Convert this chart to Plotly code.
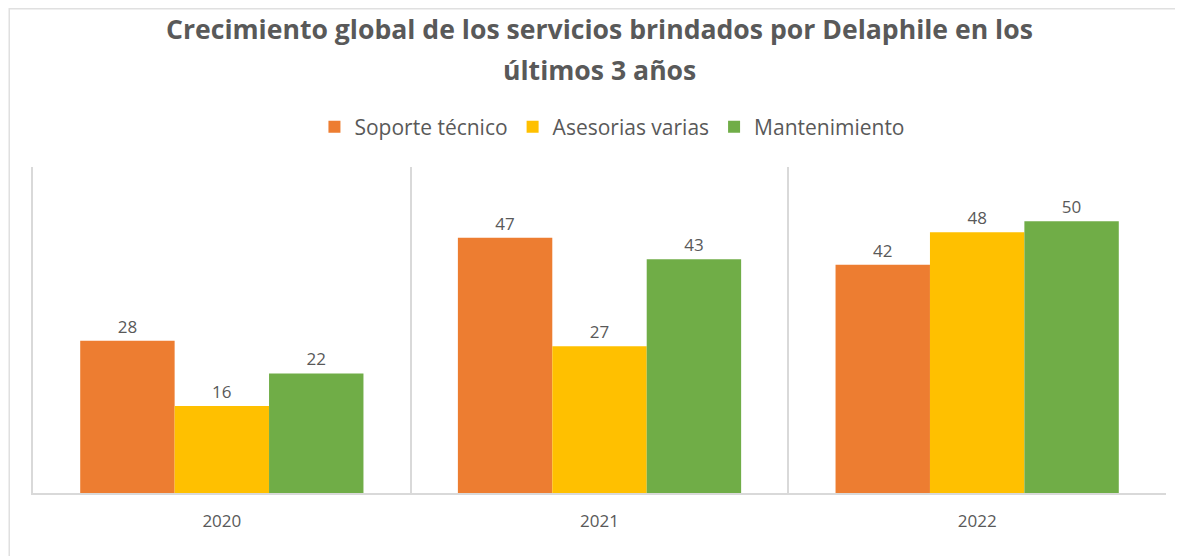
import plotly.graph_objects as go

years = ["2020", "2021", "2022"]
series_names = ["Soporte técnico", "Asesorias varias", "Mantenimiento"]
soporte = [28, 47, 42]
asesorias = [16, 27, 48]
mantenimiento = [22, 43, 50]
colors = ["#ED7D31", "#FFC000", "#70AD47"]

title_line1 = "Crecimiento global de los servicios brindados por Delaphile en los"
title_line2 = "últimos 3 años"

FONT = "Open Sans"
OFF = 8  # page body margin
W, H = 1183 - OFF, 556 - OFF
# plot area in reference pixels: x 32.5..1165.6, y 167..493
L = 32.5 - OFF
T = 167 - OFF
B = H - (493 - OFF)
R = W - (1165.6 - OFF)
plot_h = H - T - B
plot_w = W - L - R

def py(ref_y):
    return (H - B - (ref_y - OFF)) / plot_h

def px(ref_x):
    return ((ref_x - OFF) - L) / plot_w

xpos = list(range(len(years)))
fig = go.Figure()
for name, vals, col in zip(series_names, [soporte, asesorias, mantenimiento], colors):
    fig.add_trace(go.Bar(
        x=xpos, y=vals, name=name,
        marker=dict(color=col, line=dict(width=0)),
        text=[str(v) for v in vals], textposition="outside",
        textfont=dict(family=FONT, size=17, color="#595959"),
        cliponaxis=False,
    ))

fig.update_layout(
    width=W, height=H,
    margin=dict(l=L, r=R, t=T, b=B),
    paper_bgcolor="white", plot_bgcolor="white",
    barmode="group", bargap=0.25, bargroupgap=0,
    font=dict(family=FONT, color="#595959"),
    title=dict(text="<b>" + title_line1 + "</b>", x=px(599), xanchor="center",
               xref="paper", y=1 - (30 - OFF) / H, yanchor="middle",
               font=dict(family=FONT, size=26.6, color="#595959")),
    legend=dict(orientation="h", x=px(612), xanchor="center", y=py(127), yanchor="middle",
                font=dict(family=FONT, size=21, color="#595959"),
                bgcolor="rgba(0,0,0,0)", traceorder="normal"),
    showlegend=True,
)
fig.add_annotation(text="<b>" + title_line2 + "</b>", xref="paper", yref="paper",
                   x=px(599), y=py(70), xanchor="center", yanchor="middle",
                   showarrow=False, font=dict(family=FONT, size=26.6, color="#595959"))

fig.update_xaxes(
    range=[-0.5, 2.5], tickvals=xpos, ticktext=years,
    showgrid=False, zeroline=False,
    showline=True, linecolor="#D9D9D9", linewidth=1.5,
    ticks="", ticklabelstandoff=12,
    tickfont=dict(family=FONT, size=17, color="#595959"),
    minor=dict(tickvals=[0.5, 1.5], showgrid=True, gridcolor="#D9D9D9", gridwidth=1.5, ticks=""),
    fixedrange=True,
)
fig.update_yaxes(
    range=[0, 60], showticklabels=False, showgrid=False, zeroline=False,
    showline=True, linecolor="#D9D9D9", linewidth=1.5, ticks="", fixedrange=True,
)

# outer chart border (left and top edges visible)
fig.add_shape(type="rect", xref="paper", yref="paper",
              x0=px(OFF + 0.75), x1=px(1183 + 30), y0=py(556 + 30), y1=py(OFF + 0.75),
              line=dict(color="#E0E0E0", width=1.5), fillcolor="rgba(0,0,0,0)", layer="below")

fig.write_html("out.html")
